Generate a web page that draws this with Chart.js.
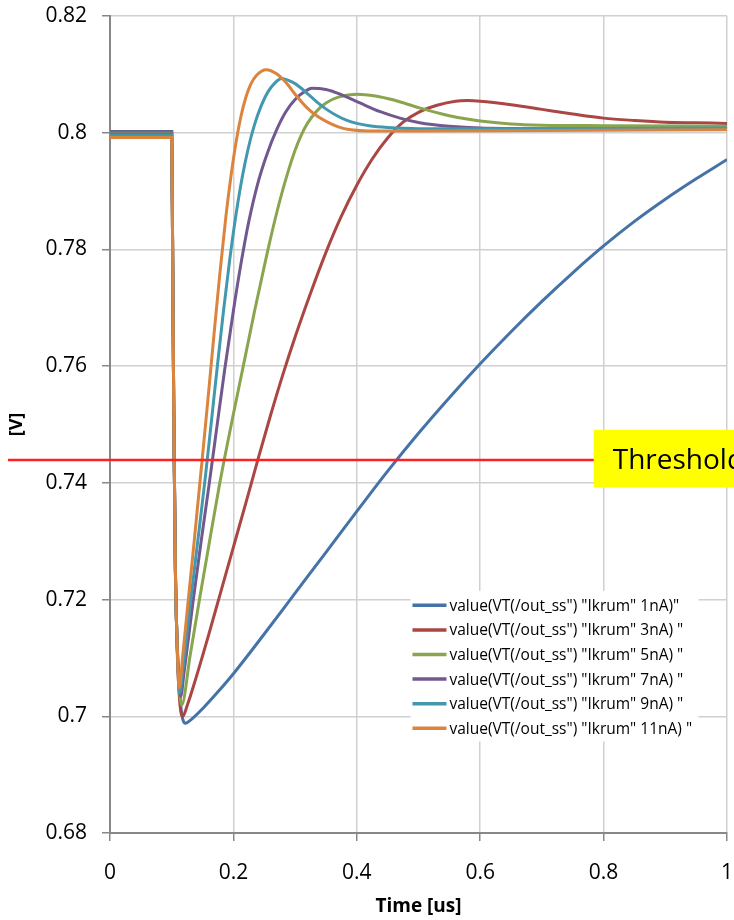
<!DOCTYPE html>
<html>
<head>
<meta charset="utf-8">
<script src="https://cdn.jsdelivr.net/npm/chart.js@4.4.1/dist/chart.umd.min.js"></script>
<style>
  html, body { margin: 0; padding: 0; background: #fff; }
  canvas { display: block; }
</style>
</head>
<body>
<canvas id="myChart" width="734" height="920"></canvas>
<script>
(function () {
    "use strict";

    // time [us] and output [V] for each Ikrum setting
    var t1nA = [0, 0.1, 0.1015, 0.1035, 0.106, 0.109, 0.114, 0.122, 0.13, 0.15, 0.175, 0.2, 0.25, 0.3, 0.35, 0.4, 0.45, 0.5, 0.55, 0.6, 0.65, 0.7, 0.75, 0.8, 0.85, 0.9, 0.95, 1.0];
    var v1nA = [0.8002, 0.8002, 0.78, 0.75, 0.725, 0.712, 0.7025, 0.6988, 0.6993, 0.7013, 0.7042, 0.7073, 0.7141, 0.7211, 0.7281, 0.7351, 0.742, 0.7485, 0.7546, 0.7604, 0.7659, 0.7711, 0.776, 0.7806, 0.7848, 0.7886, 0.7921, 0.7954];

    var t3nA = [0, 0.1, 0.1015, 0.1035, 0.106, 0.109, 0.113, 0.118, 0.125, 0.14, 0.16, 0.18, 0.2, 0.22, 0.24, 0.26, 0.28, 0.3, 0.325, 0.35, 0.375, 0.4, 0.425, 0.45, 0.475, 0.5, 0.53, 0.56, 0.58, 0.6, 0.65, 0.7, 0.75, 0.8, 0.85, 0.9, 0.95, 1.0];
    var v3nA = [0.8001, 0.8001, 0.78, 0.75, 0.725, 0.711, 0.7025, 0.7, 0.7018, 0.7068, 0.714, 0.7215, 0.729, 0.7365, 0.7441, 0.7515, 0.7585, 0.765, 0.7725, 0.7795, 0.7857, 0.791, 0.7955, 0.7991, 0.8018, 0.8035, 0.8047, 0.8054, 0.8055, 0.8054, 0.8048, 0.804, 0.8032, 0.8025, 0.8021, 0.8018, 0.8017, 0.8016];

    var t5nA = [0, 0.1, 0.1015, 0.1035, 0.106, 0.109, 0.116, 0.13, 0.145, 0.16, 0.178, 0.2, 0.216, 0.235, 0.255, 0.27, 0.28, 0.29, 0.3, 0.31, 0.32, 0.335, 0.35, 0.37, 0.4, 0.43, 0.46, 0.5, 0.55, 0.6, 0.65, 0.7, 0.8, 1.0];
    var v5nA = [0.7999, 0.7999, 0.78, 0.75, 0.725, 0.712, 0.7019, 0.7105, 0.72, 0.7292, 0.74, 0.7518, 0.76, 0.7698, 0.7795, 0.7862, 0.7902, 0.7938, 0.797, 0.7996, 0.8016, 0.8037, 0.8051, 0.8061, 0.8066, 0.8063, 0.8056, 0.8043, 0.8029, 0.802, 0.8015, 0.8013, 0.8012, 0.8011];

    var t7nA = [0, 0.1, 0.1015, 0.1035, 0.106, 0.109, 0.1145, 0.12, 0.135, 0.148, 0.161, 0.174, 0.186, 0.2, 0.213, 0.225, 0.24, 0.255, 0.27, 0.285, 0.3, 0.315, 0.327, 0.35, 0.373, 0.405, 0.438, 0.47, 0.502, 0.55, 0.6, 0.7, 1.0];
    var v7nA = [0.7998, 0.7998, 0.78, 0.75, 0.725, 0.712, 0.7034, 0.7075, 0.72, 0.7302, 0.74, 0.7502, 0.7595, 0.7695, 0.778, 0.7848, 0.7915, 0.7965, 0.8005, 0.8036, 0.8057, 0.807, 0.8076, 0.8074, 0.8066, 0.8051, 0.8036, 0.8025, 0.8017, 0.8011, 0.8008, 0.8007, 0.8007];

    var t9nA = [0, 0.1, 0.1015, 0.1035, 0.106, 0.109, 0.113, 0.118, 0.13, 0.142, 0.154, 0.164, 0.174, 0.184, 0.194, 0.204, 0.214, 0.224, 0.234, 0.245, 0.256, 0.267, 0.278, 0.295, 0.308, 0.32, 0.335, 0.351, 0.368, 0.384, 0.4, 0.42, 0.45, 0.5, 0.7, 1.0];
    var v9nA = [0.7996, 0.7996, 0.78, 0.75, 0.725, 0.712, 0.704, 0.7078, 0.7192, 0.7298, 0.7405, 0.7502, 0.76, 0.7695, 0.7782, 0.7858, 0.7922, 0.7973, 0.8013, 0.8046, 0.807, 0.8085, 0.8093, 0.8087, 0.8078, 0.8067, 0.8053, 0.804, 0.8029, 0.8021, 0.8016, 0.8012, 0.8009, 0.8007, 0.8007, 0.8008];

    var t11nA = [0, 0.1, 0.1015, 0.1035, 0.106, 0.109, 0.112, 0.118, 0.126, 0.136, 0.148, 0.158, 0.168, 0.178, 0.188, 0.196, 0.204, 0.212, 0.22, 0.228, 0.238, 0.253, 0.27, 0.286, 0.3, 0.319, 0.335, 0.351, 0.37, 0.39, 0.42, 0.5, 0.7, 1.0];
    var v11nA = [0.7992, 0.7992, 0.78, 0.75, 0.725, 0.712, 0.7049, 0.7105, 0.719, 0.7295, 0.7425, 0.7535, 0.7648, 0.7758, 0.7858, 0.7925, 0.7982, 0.8027, 0.806, 0.8083, 0.8099, 0.8108, 0.8101, 0.8085, 0.8066, 0.8043, 0.8029, 0.8019, 0.801, 0.8005, 0.8003, 0.8003, 0.8004, 0.8005];

    var seriesLabels = [
        'value(VT(/out_ss") "Ikrum" 1nA)"',
        'value(VT(/out_ss") "Ikrum" 3nA) "',
        'value(VT(/out_ss") "Ikrum" 5nA) "',
        'value(VT(/out_ss") "Ikrum" 7nA) "',
        'value(VT(/out_ss") "Ikrum" 9nA) "',
        'value(VT(/out_ss") "Ikrum" 11nA) "'
    ];
    var seriesColors = ["#4572A7", "#AA4643", "#89A54E", "#71588F", "#4198AF", "#DB843D"];

    var xTicks = [0, 0.2, 0.4, 0.6, 0.8, 1];
    var yTicks = [0.68, 0.7, 0.72, 0.74, 0.76, 0.78, 0.8, 0.82];
    var threshold = 0.7439;
    var thresholdText = "Threshold";

    var times = [t1nA, t3nA, t5nA, t7nA, t9nA, t11nA];
    var values = [v1nA, v3nA, v5nA, v7nA, v9nA, v11nA];

    function toPoints(t, v) {
        return t.map(function (x, i) { return { x: x, y: v[i] }; });
    }

    var datasets = seriesLabels.map(function (label, i) {
        return {
            label: label,
            data: toPoints(times[i], values[i]),
            borderColor: seriesColors[i],
            backgroundColor: seriesColors[i],
            borderWidth: 3,
            pointRadius: 0,
            fill: false,
            cubicInterpolationMode: "monotone",
            order: seriesLabels.length - i // later series on top, like excel
        };
    });

    var FONT = "'Open Sans', 'Liberation Sans', sans-serif";

    // red threshold line, yellow note and legend box drawn on top
    var overlay = {
        id: "overlay",
        afterDatasetsDraw: function (chart) {
            var ctx = chart.ctx;
            var xs = chart.scales.x, ys = chart.scales.y;
            var yT = ys.getPixelForValue(threshold);

            ctx.save();
            ctx.strokeStyle = "#ff2020";
            ctx.lineWidth = 2.5;
            ctx.beginPath();
            ctx.moveTo(8, yT);
            ctx.lineTo(chart.width, yT);
            ctx.stroke();

            // threshold note (runs off the right edge)
            var bx = xs.getPixelForValue(0.784);
            var by = ys.getPixelForValue(0.7491);
            var bb = ys.getPixelForValue(0.7392);
            ctx.fillStyle = "#ffff00";
            ctx.fillRect(bx, by, chart.width - bx + 10, bb - by);
            ctx.fillStyle = "#000";
            ctx.font = "28px " + FONT;
            ctx.textBaseline = "middle";
            ctx.textAlign = "left";
            ctx.fillText(thresholdText, bx + 19, (by + bb) / 2 + 2);

            // legend
            var lx = xs.getPixelForValue(0.487);
            var ly = ys.getPixelForValue(0.7215);
            var lw = 288, rowH = 24.6;
            ctx.fillStyle = "#fff";
            ctx.fillRect(lx, ly, lw, rowH * 6 + 3);
            ctx.font = "15.5px " + FONT;
            chart.data.datasets.forEach(function (ds, i) {
                var cy = ly + 14.5 + i * rowH;
                ctx.strokeStyle = ds.borderColor;
                ctx.lineWidth = 3.5;
                ctx.beginPath();
                ctx.moveTo(lx + 2, cy);
                ctx.lineTo(lx + 36, cy);
                ctx.stroke();
                ctx.fillStyle = "#000";
                ctx.fillText(ds.label, lx + 39, cy + 1);
            });
            ctx.restore();
        }
    };

    var ctx = document.getElementById("myChart");
    var myChart = new Chart(ctx, {
        type: "line",
        data: { datasets: datasets },
        plugins: [overlay],
        options: {
            responsive: false,
            animation: false,
            devicePixelRatio: 1,
            layout: { padding: { top: 16, right: 7, left: 0, bottom: 0 } },
            plugins: {
                legend: { display: false },
                tooltip: { enabled: false }
            },
            scales: {
                x: {
                    type: "linear",
                    min: 0,
                    max: 1,
                    afterBuildTicks: function (s) {
                        s.ticks = xTicks.map(function (v) { return { value: v }; });
                    },
                    afterFit: function (s) {
                        s.height = 87;
                        s.paddingLeft = 0;
                        s.paddingRight = 0;
                    },
                    ticks: {
                        color: "#000",
                        font: { family: FONT, size: 21 },
                        padding: 19,
                        maxRotation: 0,
                        callback: function (v) { return String(Number(v.toFixed(2))); }
                    },
                    grid: { color: "#d0d0d0", lineWidth: 1.5, tickColor: "#888", tickLength: 8 },
                    border: { color: "#888", width: 2 },
                    title: {
                        display: true,
                        text: "Time [us]",
                        color: "#000",
                        font: { family: FONT, size: 19, weight: "bold" },
                        padding: { top: 2, bottom: 2 }
                    }
                },
                y: {
                    type: "linear",
                    min: 0.68,
                    max: 0.82,
                    afterBuildTicks: function (s) {
                        s.ticks = yTicks.map(function (v) { return { value: v }; });
                    },
                    afterFit: function (s) {
                        s.width = 110;
                        s.paddingTop = 0;
                        s.paddingBottom = 0;
                    },
                    ticks: {
                        color: "#000",
                        font: { family: FONT, size: 21 },
                        padding: 15,
                        callback: function (v) { return String(Number(v.toFixed(2))); }
                    },
                    grid: { color: "#d0d0d0", lineWidth: 1.5, tickColor: "#888", tickLength: 8 },
                    border: { color: "#888", width: 2 },
                    title: {
                        display: true,
                        text: "[V]",
                        color: "#000",
                        font: { family: FONT, size: 18, weight: "bold" },
                        padding: { top: 6, bottom: 0 }
                    }
                }
            }
        }
    });
})();
</script>
</body>
</html>
